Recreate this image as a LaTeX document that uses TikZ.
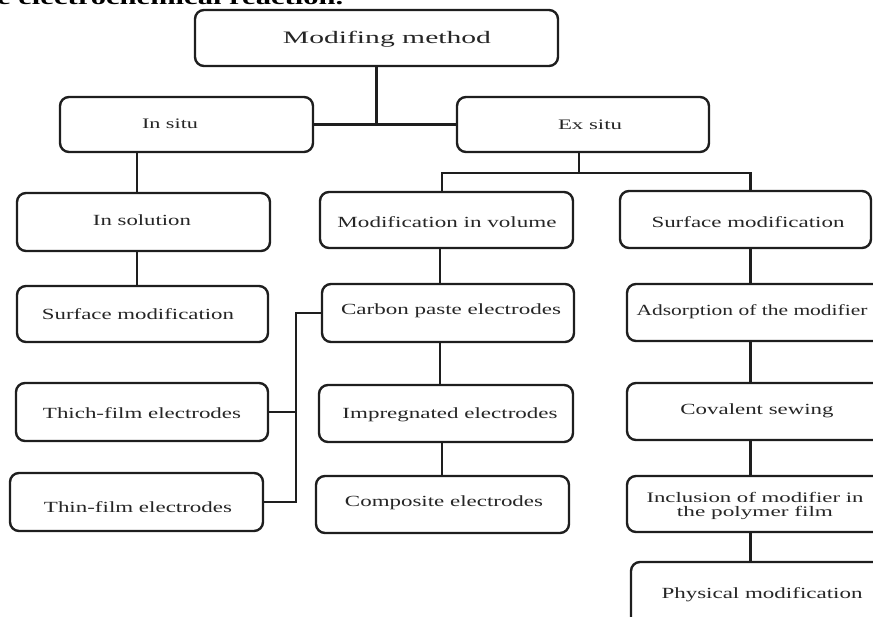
\documentclass[tikz,border=0pt]{standalone}
\usepackage{fontspec}
\usepackage{graphicx}
\setmainfont{Liberation Serif}
\definecolor{ink}{HTML}{1E1E1E}
\definecolor{txtc}{HTML}{262626}
\newcommand{\fitw}[2]{\resizebox{#1pt}{\height}{#2}}
\newcommand{\fs}[1]{\fontsize{#1}{#1}\selectfont}
\begin{document}
\begin{tikzpicture}[x=1pt,y=-1pt,
  box/.style={draw=ink, line width=2.4pt, rounded corners=9pt, fill=white, inner sep=0pt},
  conn/.style={draw=ink, line width=2.4pt},
  lbl/.style={anchor=base, inner sep=0pt, text=txtc}]
\useasboundingbox (0,0) rectangle (873,617);
\clip (0,0) rectangle (873,617);

% cut-off caption line at the top
\node[anchor=base west, inner sep=0pt, text=black, font=\bfseries\fs{21}] (cap) at (-3,5) {\fitw{346}{e electrochemical reaction.}};

% boxes
\node[box, minimum width=363pt, minimum height=56pt] (mm) at (376.5,38) {};
\node[box, minimum width=253pt, minimum height=55pt] (insitu) at (186.5,124.5) {};
\node[box, minimum width=252pt, minimum height=55pt] (exsitu) at (583,124.5) {};
\node[box, minimum width=253pt, minimum height=58pt] (insolution) at (143.5,222) {};
\node[box, minimum width=251pt, minimum height=56pt] (surfL) at (142.5,314) {};
\node[box, minimum width=253pt, minimum height=56pt] (modvol) at (446.5,220) {};
\node[box, minimum width=252pt, minimum height=58pt] (carbon) at (448,313) {};
\node[box, minimum width=252pt, minimum height=58pt] (thick) at (142,412) {};
\node[box, minimum width=253pt, minimum height=58pt] (thin) at (136.5,502) {};
\node[box, minimum width=254pt, minimum height=57pt] (impreg) at (446,413.5) {};
\node[box, minimum width=253pt, minimum height=57pt] (composite) at (442.5,504.5) {};
\node[box, minimum width=251pt, minimum height=57pt] (surfR) at (745.5,219.5) {};
\node[box, minimum width=263pt, minimum height=57pt] (adsorp) at (758.5,312.5) {};
\node[box, minimum width=263pt, minimum height=57pt] (covalent) at (758.5,411.5) {};
\node[box, minimum width=263pt, minimum height=56pt] (inclusion) at (758.5,504) {};
\node[box, minimum width=259pt, minimum height=78pt] (physical) at (760.5,601) {};

% labels
\node[lbl, font=\fs{17.5}] (mmt) at (387,44) {\fitw{208}{Modifing method}};
\node[lbl, font=\fs{14.5}] (insitut) at (170,129) {\fitw{56}{In situ}};
\node[lbl, font=\fs{14.5}] (exsitut) at (590,130) {\fitw{64}{Ex situ}};
\node[lbl, font=\fs{15.5}] (insolutiont) at (142,226) {\fitw{98}{In solution}};
\node[lbl, font=\fs{15.5}] (surfLt) at (138,320) {\fitw{192}{Surface modification}};
\node[lbl, font=\fs{15.5}] (modvolt) at (447,227.5) {\fitw{219}{Modification in volume}};
\node[lbl, font=\fs{15.5}] (carbont) at (451,315) {\fitw{220}{Carbon paste electrodes}};
\node[lbl, font=\fs{15.5}] (thickt) at (142,419) {\fitw{198}{Thich-film electrodes}};
\node[lbl, font=\fs{15.5}] (thint) at (138,512) {\fitw{188}{Thin-film electrodes}};
\node[lbl, font=\fs{15.5}] (impregt) at (450,418.5) {\fitw{215}{Impregnated electrodes}};
\node[lbl, font=\fs{15.5}] (compositet) at (444,507) {\fitw{198}{Composite electrodes}};
\node[lbl, font=\fs{15.5}] (surfRt) at (748,228) {\fitw{193}{Surface modification}};
\node[lbl, font=\fs{15.5}] (adsorpt) at (752,316) {\fitw{231}{Adsorption of the modifier}};
\node[lbl, font=\fs{15.5}] (covalentt) at (757,415) {\fitw{153}{Covalent sewing}};
\node[lbl, font=\fs{14.5}] (inct1) at (755,502.5) {\fitw{217}{Inclusion of modifier in}};
\node[lbl, font=\fs{14.5}] (inct2) at (755,516) {\fitw{156}{the polymer film}};
\node[lbl, font=\fs{15.5}] (physicalt) at (762,598) {\fitw{201}{Physical modification}};

% connector columns
\coordinate (cA) at (137,0);
\coordinate (cB) at (579,0);
\coordinate (cC) at (442,0);
\coordinate (cD) at (750.5,0);
\coordinate (cE) at (440,0);
\coordinate (cF) at (296,0);
\coordinate (bus) at (0,173);

% connectors
\draw[conn] (mm.south) -- (mm.south |- insitu.east);
\draw[conn] (insitu.east) -- (exsitu.west);
\draw[conn] (cA |- insitu.south) -- (cA |- insolution.north);
\draw[conn] (cA |- insolution.south) -- (cA |- surfL.north);
\draw[conn] (cB |- exsitu.south) -- (cB |- bus);
\draw[conn] (cC |- modvol.north) -- (cC |- bus) -- (cD |- bus) -- (cD |- surfR.north);
\draw[conn] (cE |- modvol.south) -- (cE |- carbon.north);
\draw[conn] (cE |- carbon.south) -- (cE |- impreg.north);
\draw[conn] (cC |- impreg.south) -- (cC |- composite.north);
\draw[conn] (carbon.west) -| (cF |- thin.east) -- (thin.east);
\draw[conn] (thick.east) -- (cF |- thick.east);
\draw[conn] (cD |- surfR.south) -- (cD |- adsorp.north);
\draw[conn] (cD |- adsorp.south) -- (cD |- covalent.north);
\draw[conn] (cD |- covalent.south) -- (cD |- inclusion.north);
\draw[conn] (cD |- inclusion.south) -- (cD |- physical.north);
\end{tikzpicture}
\end{document}
